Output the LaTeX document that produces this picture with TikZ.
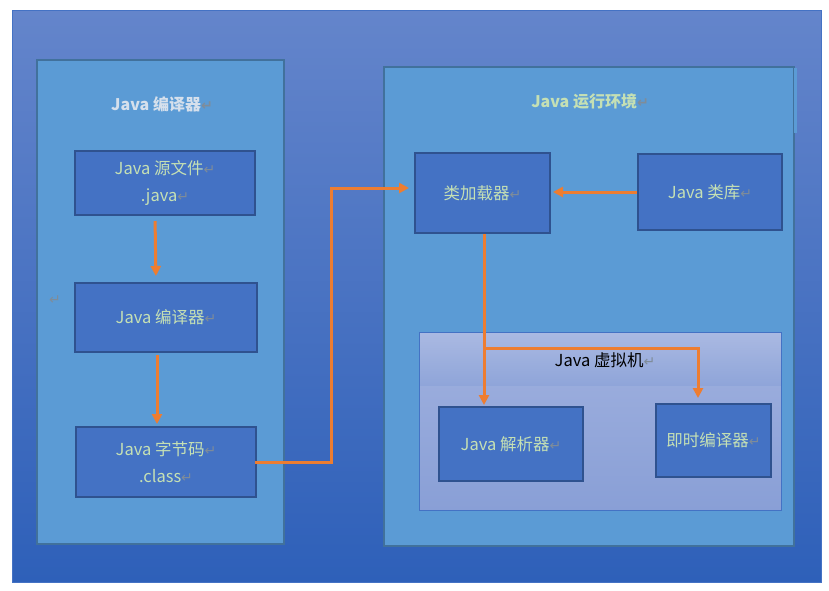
\documentclass[tikz,border=0pt]{standalone}
\usepackage{fontspec}
\setmainfont{Noto Sans CJK SC}
\newfontfamily\retfont{DejaVu Sans}
\usetikzlibrary{arrows.meta}
\definecolor{bgtop}{HTML}{6485CB}
\definecolor{bgbot}{HTML}{2E60B9}
\definecolor{bgline}{HTML}{4472C4}
\definecolor{contf}{HTML}{5B9BD5}
\definecolor{contb}{HTML}{41719C}
\definecolor{boxf}{HTML}{4472C4}
\definecolor{boxb}{HTML}{2F528F}
\definecolor{txtc}{HTML}{C5E0B4}
\definecolor{ttlc}{HTML}{D6E0EC}
\definecolor{arrc}{HTML}{ED7D31}
\definecolor{retc}{HTML}{7F8C99}
\definecolor{vmtop}{HTML}{AAB9E2}
\definecolor{vmmid}{HTML}{8FA5D9}
\definecolor{vmlow}{HTML}{A0B1DF}
\definecolor{vmbot}{HTML}{899FD6}
\newcommand{\rmk}{{\retfont\fontsize{14}{14}\selectfont\color{retc}↵}}
\tikzset{
  cont/.style={draw=contb, line width=1.5pt, fill=contf, inner sep=0pt},
  boxn/.style={draw=boxb, line width=2pt, fill=boxf, inner sep=0pt, align=center,
    text=txtc, font=\fontsize{16.5}{27}\selectfont},
  ttl/.style={font=\bfseries\fontsize{16}{20}\selectfont, inner sep=0pt},
  arrow/.style={draw=arrc, line width=3pt, -{Triangle[length=10pt,width=10pt]}},
}
\begin{document}
\begin{tikzpicture}[x=1pt,y=-1pt]
\useasboundingbox (0,0) rectangle (829,590);
% background
\node[draw=bgline, line width=1pt, top color=bgtop, bottom color=bgbot, inner sep=0pt,
  minimum width=809pt, minimum height=572pt] (bg) at (416.5,296) {};
% containers
\node[cont, minimum width=247pt, minimum height=484pt] (left) at (160.5,302) {};
\node[cont, minimum width=410pt, minimum height=479pt] (right) at (589,306.5) {};
\fill[contf] (794,68) rectangle (797,133);
\node[ttl, text=ttlc] (lt) at (162,104) {Java 编译器\rmk};
\node[ttl, text=txtc] (rtl) at (590,101) {Java 运行环境\rmk};
\node[inner sep=0pt] (stray) at (55,300) {\rmk};
% left boxes
\node[boxn, minimum width=180pt, minimum height=64pt] (src) at (165,183) {Java 源文件\rmk\\.java\rmk};
\node[boxn, minimum width=182pt, minimum height=69pt] (comp) at (166,317.5) {Java 编译器\rmk};
\node[boxn, minimum width=180pt, minimum height=70pt] (bc) at (166,462) {Java 字节码\rmk\\.class\rmk};
% VM container
\node[inner sep=0pt, top color=vmlow, bottom color=vmbot, minimum width=361pt, minimum height=177pt] (vm) at (600.5,421.5) {};
\shade[top color=vmtop, bottom color=vmmid] (vm.north west) rectangle (781,385);
\draw[bgline, line width=1pt] (vm.north west) rectangle (vm.south east);
\node[font=\fontsize{16.5}{20}\selectfont, text=black, inner sep=0pt] (vmt) at (605,360) {Java 虚拟机\rmk};
% right boxes
\node[boxn, minimum width=135pt, minimum height=80pt] (loader) at (482.5,193) {类加载器\rmk};
\node[boxn, minimum width=144pt, minimum height=76pt] (lib) at (710,192) {Java 类库\rmk};
\node[boxn, minimum width=144pt, minimum height=74pt] (interp) at (511,444) {Java 解析器\rmk};
\node[boxn, minimum width=115pt, minimum height=73pt] (jit) at (713.5,440.5) {即时编译器\rmk};
% arrows
\draw[arrow, shorten <=5pt, shorten >=6pt] ([xshift=-10pt]src.south) -- ([xshift=-10pt]comp.north);
\draw[arrow, shorten <=2pt, shorten >=2pt] ([xshift=-9pt]comp.south) -- ([xshift=-9pt]bc.north);
\coordinate (j1) at (331,188);
\draw[arrow, shorten >=5pt] ([xshift=-2pt]bc.east) -| (j1) -- (j1 -| loader.west);
\draw[arrow, shorten >=2pt] (lib.west) -- (lib.west -| loader.east);
\draw[arrow, shorten >=1pt] ([xshift=1.5pt]loader.south) -- ([xshift=1.5pt]loader.south |- interp.north);
\coordinate (br) at (484,348);
\draw[arrow, shorten >=5pt] (br) -| ([xshift=-15.5pt]jit.north);
\end{tikzpicture}
\end{document}
